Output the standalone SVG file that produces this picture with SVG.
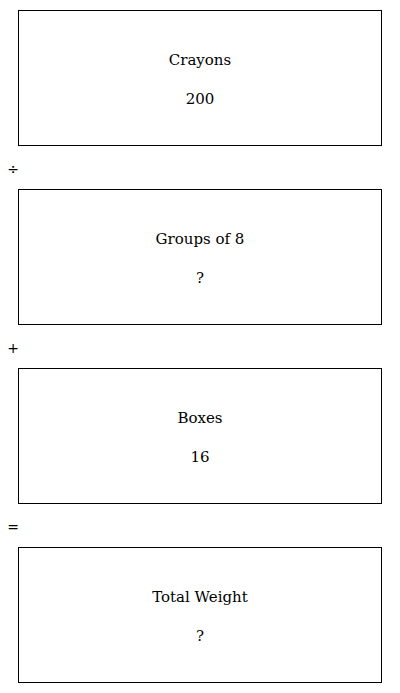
<svg xmlns="http://www.w3.org/2000/svg" width="400" height="693" viewBox="0 0 400 693">
<style>
.box{fill:#fff;stroke:#000;stroke-width:1}
.t{font-family:"DejaVu Serif","Liberation Serif",serif;font-size:15px;text-anchor:middle;fill:#000}
.op{font-family:"DejaVu Sans","Liberation Sans",sans-serif;font-size:14px;text-anchor:middle;fill:#000}
</style>
<rect width="400" height="693" fill="#fff"/>
<g id="n1"><rect class="box" x="18.5" y="10.5" width="363" height="135"/><text class="t" x="200" y="65">Crayons</text><text class="t" x="200" y="104">200</text></g>
<g id="n2"><rect class="box" x="18.5" y="189.5" width="363" height="135"/><text class="t" x="200" y="244">Groups of 8</text><text class="t" x="200" y="283">?</text></g>
<g id="n3"><rect class="box" x="18.5" y="368.5" width="363" height="135"/><text class="t" x="200" y="423">Boxes</text><text class="t" x="200" y="462">16</text></g>
<g id="n4"><rect class="box" x="18.5" y="547.5" width="363" height="135"/><text class="t" x="200" y="602">Total Weight</text><text class="t" x="200" y="641">?</text></g>
<g id="connectors">
<text class="op" x="13" y="174">÷</text>
<text class="op" x="13" y="353">+</text>
<text class="op" x="13" y="532">=</text>
</g>
</svg>
